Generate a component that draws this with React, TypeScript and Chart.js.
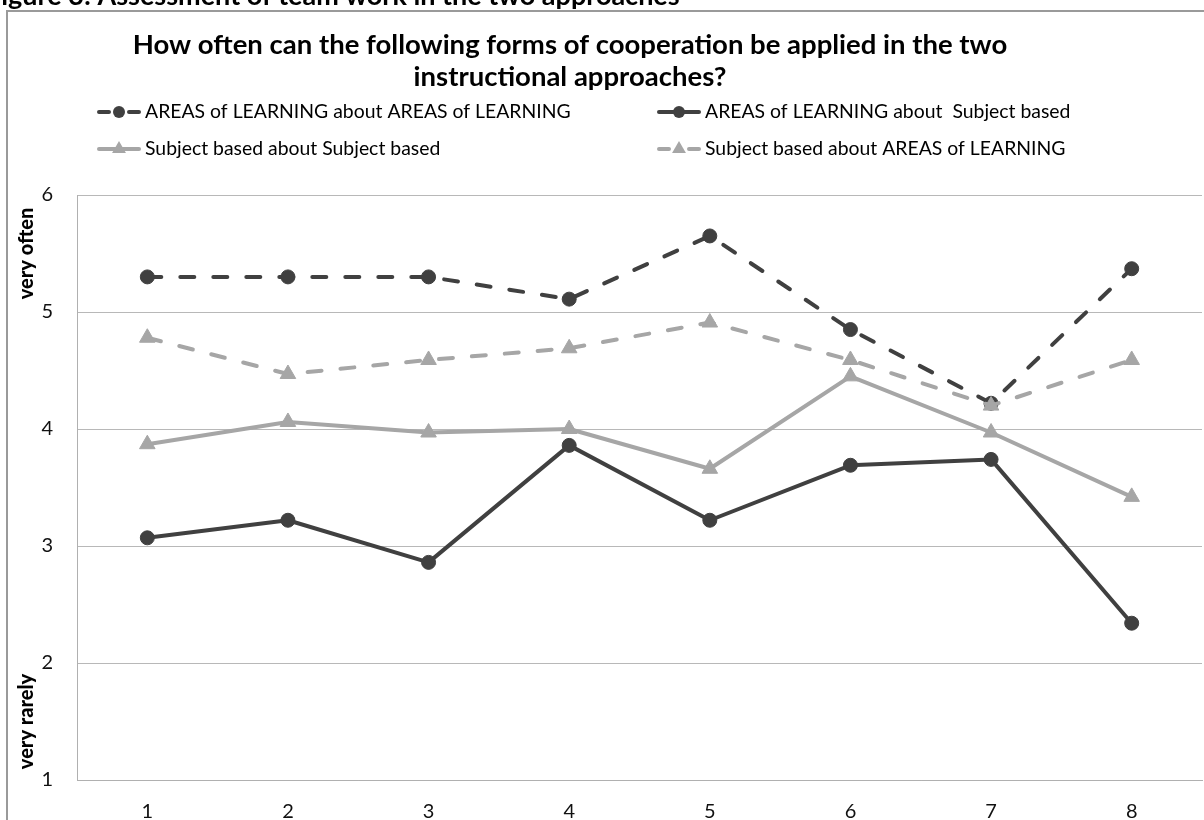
import React, { useEffect, useRef } from 'react';
import { Chart, registerables } from 'chart.js';

Chart.register(...registerables);

const categories = ['1', '2', '3', '4', '5', '6', '7', '8'];
const areasAboutAreas = [5.3, 5.3, 5.3, 5.11, 5.65, 4.85, 4.22, 5.37];
const areasAboutSubject = [3.07, 3.22, 2.86, 3.86, 3.22, 3.69, 3.74, 2.34];
const subjectAboutSubject = [3.87, 4.06, 3.97, 4.0, 3.66, 4.45, 3.97, 3.42];
const subjectAboutAreas = [4.78, 4.47, 4.59, 4.69, 4.91, 4.59, 4.2, 4.59];
const seriesLabels = [
  'AREAS of LEARNING about AREAS of LEARNING',
  'AREAS of LEARNING about  Subject based',
  'Subject based about Subject based',
  'Subject based about AREAS of LEARNING',
];
const yMin = 1;
const yMax = 6;
const titleLines = [
  'How often can the following forms of cooperation be applied in the two',
  'instructional approaches?',
];
const captionText = 'Figure 3: Assessment of team work in the two approaches';
const axisNotes = ['very often', 'very rarely'];
const axisNoteValues = [5.5, 1.5];

const DARK = '#404040';
const GRAY = '#a6a6a6';
const FONT = 'Lato, "Open Sans", sans-serif';
const DASH = [14, 19];

function drawMarker(ctx: CanvasRenderingContext2D, style: string, x: number, y: number, r: number, color: string) {
  ctx.save();
  ctx.fillStyle = color;
  ctx.beginPath();
  if (style === 'circle') {
    ctx.arc(x, y, r, 0, Math.PI * 2);
  } else {
    let rad = 0;
    ctx.moveTo(x + Math.sin(rad) * r, y - Math.cos(rad) * r);
    rad += (2 * Math.PI) / 3;
    ctx.lineTo(x + Math.sin(rad) * r, y - Math.cos(rad) * r);
    rad += (2 * Math.PI) / 3;
    ctx.lineTo(x + Math.sin(rad) * r, y - Math.cos(rad) * r);
    ctx.closePath();
  }
  ctx.fill();
  ctx.restore();
}

const decorPlugin = {
  id: 'decor',
  beforeDraw(chart: any) {
    const ctx = chart.ctx as CanvasRenderingContext2D;
    ctx.save();
    ctx.strokeStyle = '#9a9a9a';
    ctx.lineWidth = 2;
    ctx.beginPath();
    ctx.moveTo(7, 900);
    ctx.lineTo(7, 11);
    ctx.lineTo(1300, 11);
    ctx.stroke();
    ctx.restore();
  },
  afterDraw(chart: any) {
    const ctx = chart.ctx as CanvasRenderingContext2D;
    const yScale = chart.scales.y;
    ctx.save();
    ctx.fillStyle = '#000';
    // caption (cut off at top)
    ctx.font = `bold 27px ${FONT}`;
    ctx.textAlign = 'left';
    ctx.textBaseline = 'alphabetic';
    ctx.fillText(captionText, -14, 5);
    // title
    ctx.font = `bold 27.5px ${FONT}`;
    ctx.textAlign = 'center';
    ctx.textBaseline = 'middle';
    titleLines.forEach((t, i) => ctx.fillText(t, 570, 45 + i * 32));
    // y notes
    ctx.font = `900 20px ${FONT}`;
    axisNotes.forEach((t, i) => {
      ctx.save();
      ctx.translate(27, yScale.getPixelForValue(axisNoteValues[i]));
      ctx.rotate(-Math.PI / 2);
      ctx.fillText(t, 0, 0);
      ctx.restore();
    });
    // legend
    const legendOrder = [0, 1, 2, 3];
    const cols = [97, 657];
    const rows = [112, 149];
    ctx.font = `19.4px ${FONT}`;
    ctx.textAlign = 'left';
    legendOrder.forEach((dsIndex, k) => {
      const ds = chart.data.datasets[dsIndex];
      const x0 = cols[k % 2];
      const y0 = rows[Math.floor(k / 2)];
      ctx.save();
      ctx.strokeStyle = ds.borderColor;
      ctx.lineWidth = 4;
      ctx.lineCap = 'round';
      if (ds.borderDash && ds.borderDash.length) {
        ctx.beginPath();
        ctx.moveTo(x0 + 2, y0);
        ctx.lineTo(x0 + 12, y0);
        ctx.moveTo(x0 + 32, y0);
        ctx.lineTo(x0 + 42, y0);
        ctx.stroke();
      } else {
        ctx.beginPath();
        ctx.moveTo(x0 + 2, y0);
        ctx.lineTo(x0 + 42, y0);
        ctx.stroke();
      }
      ctx.restore();
      drawMarker(ctx, ds.pointStyle, x0 + 22, y0, ds.pointStyle === 'circle' ? 6 : 8, ds.pointBackgroundColor);
      ctx.fillStyle = '#000';
      ctx.textBaseline = 'middle';
      ctx.fillText(seriesLabels[dsIndex], x0 + 48, y0);
    });
    ctx.restore();
  },
};

export default function App() {
  const ref = useRef<HTMLCanvasElement | null>(null);
  useEffect(() => {
    if (!ref.current) return;
    const mk = (i: number, data: number[], color: string, dashed: boolean, style: string, order: number) => ({
      label: seriesLabels[i],
      data,
      borderColor: color,
      backgroundColor: color,
      pointBackgroundColor: color,
      pointBorderColor: color,
      borderWidth: 4,
      borderDash: dashed ? DASH : [],
      borderCapStyle: dashed ? 'round' : 'butt',
      borderJoinStyle: 'round',
      pointStyle: style,
      pointRadius: style === 'circle' ? 7 : 9,
      pointBorderWidth: 1,
      tension: 0,
      fill: false,
      clip: false,
      order,
    });
    const chart = new Chart(ref.current, {
      type: 'line',
      data: {
        labels: categories,
        datasets: [
          mk(0, areasAboutAreas, DARK, true, 'circle', 4),
          mk(1, areasAboutSubject, DARK, false, 'circle', 3),
          mk(2, subjectAboutSubject, GRAY, false, 'triangle', 2),
          mk(3, subjectAboutAreas, GRAY, true, 'triangle', 1),
        ] as any,
      },
      options: {
        animation: false,
        responsive: false,
        devicePixelRatio: 1,
        layout: { autoPadding: false, padding: { top: 195, left: 0, right: 2, bottom: 0 } },
        plugins: {
          legend: { display: false },
          title: { display: false },
          tooltip: { enabled: false },
        },
        scales: {
          x: {
            offset: true,
            grid: { display: false },
            border: { display: true, color: '#b0b0b0', width: 1 },
            ticks: { color: '#111', font: { family: FONT, size: 20 }, padding: 12 },
            afterFit: (s: any) => {
              s.height = 40;
            },
          },
          y: {
            min: yMin,
            max: yMax,
            ticks: { stepSize: 1, color: '#111', font: { family: FONT, size: 20 }, padding: 24 },
            grid: { color: '#b8b8b8', lineWidth: 1, drawTicks: false },
            border: { display: true, color: '#b0b0b0', width: 1 },
            afterFit: (s: any) => {
              s.width = 77;
            },
          },
        },
      },
      plugins: [decorPlugin],
    });
    return () => chart.destroy();
  }, []);
  return (
    <div style={{ position: 'fixed', left: 0, top: 0, width: 1204, height: 820, background: '#fff', overflow: 'hidden' }}>
      <canvas ref={ref} width={1204} height={820} style={{ display: 'block', width: 1204, height: 820 }} />
    </div>
  );
}
